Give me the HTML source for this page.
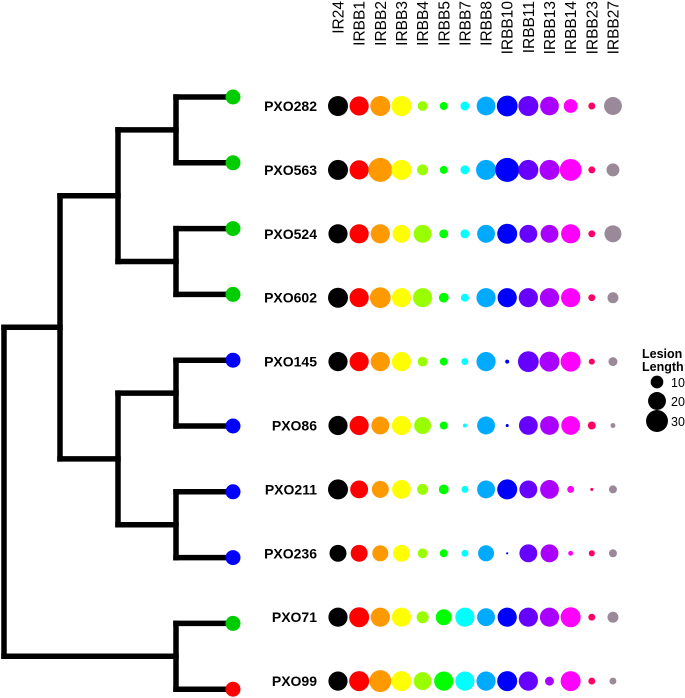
<!DOCTYPE html>
<html><head><meta charset="utf-8"><style>
html,body{margin:0;padding:0;background:#fff;}
svg{display:block;font-family:"Liberation Sans",Arial,sans-serif;}
</style></head><body>
<svg id="chart" width="685" height="698" viewBox="0 0 685 698">
<g id="dendro"></g>
<g id="headers"></g>
<g id="labels"></g>
<g id="dots"></g>
<g id="legend"></g>
</svg>
<script>
const strains = ["PXO282","PXO563","PXO524","PXO602","PXO145","PXO86","PXO211","PXO236","PXO71","PXO99"];
const lines = ["IR24","IRBB1","IRBB2","IRBB3","IRBB4","IRBB5","IRBB7","IRBB8","IRBB10","IRBB11","IRBB13","IRBB14","IRBB23","IRBB27"];
const lineColors = ["#000000","#ff0000","#ff9900","#ffff00","#99ff00","#00ff00","#00ffff","#00aaff","#0000ff","#6600ff","#aa00ff","#ff00ff","#ff0066","#9a8a99"];
const tipColors = ["#00cc00","#00cc00","#00cc00","#00cc00","#0000ff","#0000ff","#0000ff","#0000ff","#00cc00","#ff0000"];
const lesion = [
 [25,23,25,25,6,4,5,22,27,25,22,12,3,20],
 [25,23,36,25,7.5,4,5,25,36,25,25,30,3,10.5],
 [23,23,23,20,20,5,5,20,25,20,20,23,3,18],
 [25,23,27,23,23,6,4,23,23,23,23,23,3,7.5],
 [23,23,23,23,6,4,3,23,1,27,25,25,2.3,5],
 [23,23,20,23,18,4,1,20,0.6,22,22,22,4,1.5],
 [25,20,18,22,7.5,6,3,20,25,20,22,3,0.6,4],
 [18,18,16,18,6,4,3,16,0.3,20,20,1.5,2.3,4],
 [23,25,23,23,9,16,23,20,23,23,23,25,3,7.5],
 [23,25,30,25,20,23,23,23,25,23,5,25,3,3]
];
const legendValues = [10,20,30];
const tree = [[[[[0,1],[2,3]],[[4,5],[6,7]]],[8,9]]];

const NS="http://www.w3.org/2000/svg";
function mk(tag,attrs,parent){const e=document.createElementNS(NS,tag);for(const k in attrs)e.setAttribute(k,attrs[k]);parent.appendChild(e);return e;}
const colX = i => 338 + i*21.15;
const rowY = i => 106 + i*63.9;
const tipY = i => 97 + i*65.8;
const rScale = v => 2*Math.sqrt(v);

const hg=document.getElementById('headers');
lines.forEach((l,i)=>{
  const t=mk('text',{x:0,y:0,transform:`translate(${colX(i)+5.5},1) rotate(-90)`,'text-anchor':'end','font-size':'15.5',fill:'#000'},hg);
  t.textContent=l;
  
  
});
const lg=document.getElementById('labels'), dg=document.getElementById('dots');
strains.forEach((s,r)=>{
  const t=mk('text',{x:317,y:rowY(r)+5,'text-anchor':'end','font-size':'14','font-weight':'bold'},lg);
  t.textContent=s;
  
  
  lesion[r].forEach((v,c)=>{
    const d=mk('circle',{cx:colX(c),cy:rowY(r),r:rScale(v),fill:lineColors[c]},dg);
    
    
  });
});
const tg=document.getElementById('dendro');
const xs=[4,60,118,176];
const st={stroke:'#000','stroke-width':5.5,fill:'none','stroke-linecap':'square'};
function draw(node,depth){
  if(typeof node==='number'){return {y:tipY(node),x:233};}
  const kids=node.map(n=>draw(n,depth+1));
  let x = depth===0?xs[0]:xs[Math.min(depth,3)];
  if(depth===1 && node.length===2 && typeof node[0]==='number') x=xs[3];
  kids.forEach(k=>{
    const h=mk('path',Object.assign({d:`M${x},${k.y}H${k.x}`},st),tg);
    
    
  });
  const ys=kids.map(k=>k.y);
  const v=mk('path',Object.assign({d:`M${x},${Math.min(...ys)}V${Math.max(...ys)}`},st),tg);
  
  
  return {x:x,y:(Math.min(...ys)+Math.max(...ys))/2};
}
draw(tree[0],0);
strains.forEach((s,i)=>{
  const c=mk('circle',{cx:233,cy:tipY(i),r:7.5,fill:tipColors[i]},tg);
  
  
});
const leg=document.getElementById('legend');
const t1=mk('text',{x:642,y:358,'font-size':'12.5','font-weight':'bold'},leg);t1.textContent='Lesion';


const t2=mk('text',{x:642,y:371,'font-size':'12.5','font-weight':'bold'},leg);t2.textContent='Length';


const ly=[382,401,421];
legendValues.forEach((v,i)=>{
  const c=mk('circle',{cx:657,cy:ly[i],r:rScale(v),fill:'#000'},leg);
  
  
  const t=mk('text',{x:671,y:ly[i]+5,'font-size':'12.5'},leg);t.textContent=v;
  
  
});
</script>
</body></html>
